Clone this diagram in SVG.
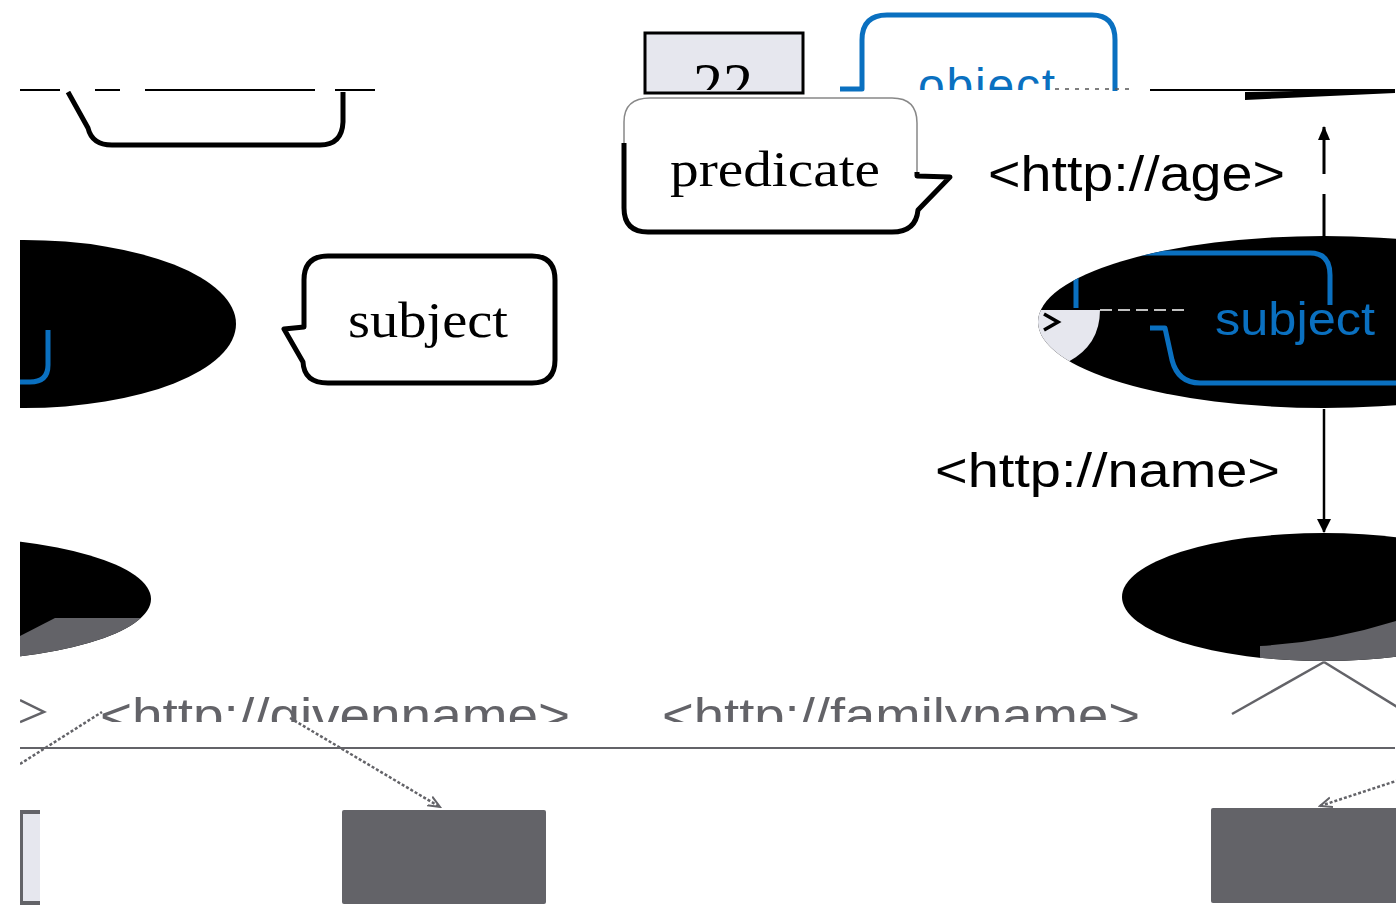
<svg xmlns="http://www.w3.org/2000/svg" width="1399" height="912" viewBox="0 0 1399 912">
<style>
.serif{font-family:"Liberation Serif","DejaVu Serif",serif;fill:#000}
.sans{font-family:"Liberation Sans","Open Sans",sans-serif}
.blk{fill:none;stroke:#000;stroke-width:5;stroke-linejoin:round}
.blu{fill:none;stroke:#0a70c0;stroke-width:5;stroke-linejoin:round}
.gray{fill:#636368}
.gline{stroke:#636368;stroke-width:2.5;fill:none}
</style>
<defs>
<clipPath id="top"><rect x="0" y="0" width="1399" height="90"/></clipPath>
<clipPath id="below91"><rect x="0" y="91" width="1399" height="200"/></clipPath>
<clipPath id="lab"><rect x="0" y="660" width="1399" height="62"/></clipPath>
<clipPath id="predThick"><path d="M0,143 H900 V172 H1000 V300 H0 Z"/></clipPath>
<clipPath id="ellR"><ellipse cx="1324" cy="322" rx="286" ry="86"/></clipPath>
<clipPath id="ellB"><ellipse cx="1324" cy="597" rx="202" ry="64"/></clipPath>
<clipPath id="ellBL"><ellipse cx="-60" cy="599" rx="211" ry="62"/></clipPath>
<clipPath id="view"><rect x="20" y="0" width="1376" height="912"/></clipPath>
<marker id="arr" markerWidth="14" markerHeight="14" refX="13" refY="7" orient="auto" markerUnits="userSpaceOnUse"><path d="M0,0 L14,7 L0,14 Z" fill="#000"/></marker>
<marker id="arrD" markerWidth="14" markerHeight="12" refX="13" refY="6" orient="auto" markerUnits="userSpaceOnUse"><path d="M0,0 L14,6 L0,12 Z" fill="#000"/></marker>
<marker id="arrG" markerWidth="14" markerHeight="14" refX="12" refY="7" orient="auto" markerUnits="userSpaceOnUse"><path d="M0,2 L12,7 L0,12" fill="none" stroke="#636368" stroke-width="2"/></marker>
</defs>
<rect width="1399" height="912" fill="#fff"/>
<g clip-path="url(#view)">
<g id="connectors">
<line x1="20" y1="90" x2="375" y2="90" stroke="#000" stroke-width="2" stroke-dasharray="40 35 25 25 170 20 40 0"/>
<line x1="1150" y1="90" x2="1395" y2="90" stroke="#000" stroke-width="2"/>
<polygon points="1245,92 1395,89 1395,93 1330,96 1245,100" fill="#000"/>
<line x1="1324" y1="236" x2="1324" y2="127" stroke="#000" stroke-width="3" stroke-dasharray="42 20 40 0" marker-end="url(#arrD)"/>
<line x1="1324" y1="409" x2="1324" y2="532" stroke="#000" stroke-width="2.5" marker-end="url(#arr)"/>
<line x1="1324" y1="662" x2="1232" y2="714" class="gline" stroke-width="3"/>
<line x1="1324" y1="662" x2="1399" y2="708" class="gline" stroke-width="3"/>
<line x1="290" y1="718" x2="440" y2="807" class="gline" stroke-dasharray="3 2" marker-end="url(#arrG)"/>
<line x1="1399" y1="780" x2="1320" y2="806" class="gline" stroke-dasharray="3 2" marker-end="url(#arrG)"/>
<line x1="20" y1="764" x2="102" y2="712" class="gline" stroke-dasharray="3 2"/>
<line x1="20" y1="748" x2="1395" y2="748" stroke="#636368" stroke-width="2"/>
<path d="M20,700 L44,712 L20,722" class="gline" stroke-width="4"/>
</g>
<g id="node-22">
<rect x="645" y="33" width="158" height="60" fill="#e6e7ee" stroke="#000" stroke-width="3"/>
<text x="723" y="104" class="serif" font-size="60" text-anchor="middle" clip-path="url(#top)">22</text>
</g>
<g id="node-object">
<path d="M840,89 H862 V40 Q862,15 887,15 H1092 Q1115,15 1115,40 V91" class="blu"/>
<text x="918" y="102" class="sans" font-size="48" fill="#0a70c0" textLength="137" clip-path="url(#top)">object</text>
<line x1="1055" y1="89" x2="1130" y2="89" stroke="#555" stroke-width="1.5" stroke-dasharray="4 6"/>
</g>
<g id="node-subject-top">
<path d="M68,92 L88,128 Q92,145 112,145 H320 Q342,145 343,122 V92" class="blk" clip-path="url(#below91)"/>
</g>
<g id="node-predicate">
<path d="M650,98 H892 Q917,98 917,123 V176 L950,177 L918,210 Q916,232 892,232 H648 Q624,232 624,208 V122 Q624,98 650,98 Z" fill="#fff" stroke="#888" stroke-width="1.5"/>
<path d="M650,98 H892 Q917,98 917,123 V176 L950,177 L918,210 Q916,232 892,232 H648 Q624,232 624,208 V122 Q624,98 650,98 Z" class="blk" clip-path="url(#predThick)"/>
<text x="670" y="186" class="serif" font-size="50" textLength="210" lengthAdjust="spacingAndGlyphs">predicate</text>
</g>
<g id="label-age">
<text x="988" y="191" class="sans" font-size="50" fill="#000" textLength="297" lengthAdjust="spacingAndGlyphs">&lt;http://age&gt;</text>
</g>
<g id="node-left-ellipse">
<ellipse cx="24" cy="324" rx="212" ry="84" fill="#000"/>
<path d="M48,330 V365 Q48,382 30,382 H20" class="blu"/>
</g>
<g id="node-subject">
<path d="M328,256 H532 Q555,256 555,280 V360 Q555,383 532,383 H328 Q304,383 303,362 L284,329 L304,327 V280 Q304,256 328,256 Z" fill="#fff" class="blk"/>
<text x="348" y="337" class="serif" font-size="50" textLength="160" lengthAdjust="spacingAndGlyphs">subject</text>
</g>
<g id="node-right-ellipse">
<ellipse cx="1324" cy="322" rx="286" ry="86" fill="#000"/>
<g clip-path="url(#ellR)">
<path d="M1030,310 H1100 Q1100,345 1068,362 L1030,372 Z" fill="#e6e7ee"/>
<path d="M1044,314 L1058,322 L1044,330" fill="none" stroke="#000" stroke-width="3.5"/>
<line x1="1100" y1="310" x2="1190" y2="310" stroke="#fff" stroke-width="1.5" stroke-dasharray="12 6"/>
<path d="M1076,308 V275 Q1076,253 1098,253 H1310 Q1330,253 1330,275 V305" class="blu"/>
<path d="M1150,328 H1165 L1172,360 Q1178,383 1200,383 H1399" class="blu"/>
<text x="1215" y="335" class="sans" font-size="46" fill="#0a70c0" textLength="160" lengthAdjust="spacingAndGlyphs">subject</text>
</g>
</g>
<g id="label-name">
<text x="935" y="487" class="sans" font-size="48" fill="#000" textLength="345" lengthAdjust="spacingAndGlyphs">&lt;http://name&gt;</text>
</g>
<g id="node-bottom-right-ellipse">
<ellipse cx="1324" cy="597" rx="202" ry="64" fill="#000"/>
<path d="M1260,646 Q1330,642 1399,620 V670 H1260 Z" class="gray" clip-path="url(#ellB)"/>
</g>
<g id="node-bottom-left-ellipse">
<ellipse cx="-60" cy="599" rx="211" ry="62" fill="#000"/>
<path d="M20,636 L55,618 H160 V670 H20 Z" class="gray" clip-path="url(#ellBL)"/>
</g>
<g id="label-givenname">
<text x="100" y="732" class="sans" font-size="48" fill="#636368" textLength="470" lengthAdjust="spacingAndGlyphs" clip-path="url(#lab)">&lt;http://givenname&gt;</text>
</g>
<g id="label-familyname">
<text x="662" y="732" class="sans" font-size="48" fill="#636368" textLength="478" lengthAdjust="spacingAndGlyphs" clip-path="url(#lab)">&lt;http://familyname&gt;</text>
</g>
<g id="node-rect-left">
<path d="M40,812 H21 V903 H40" fill="#e6e7ee" stroke="#636368" stroke-width="4"/>
</g>
<g id="node-rect-mid">
<rect x="342" y="810" width="204" height="94" rx="2" class="gray"/>
</g>
<g id="node-rect-right">
<rect x="1211" y="808" width="200" height="95" rx="2" class="gray"/>
</g>
</g>
</svg>
